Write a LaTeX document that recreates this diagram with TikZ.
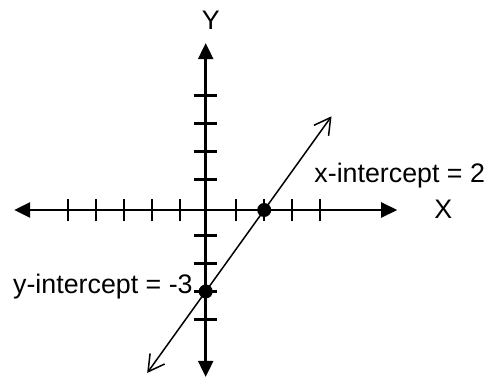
\documentclass[tikz,border=0pt]{standalone}
\usepackage{fontspec}
\setmainfont{Liberation Sans}
\usetikzlibrary{arrows.meta,positioning,calc}

\begin{document}
\begin{tikzpicture}[
  x=14pt,y=14pt,
  every node/.style={font=\fontsize{13.4}{16}\selectfont},
  axisline/.style={line width=1.2pt,
    {Triangle[length=8pt,width=7.5pt]}-{Triangle[length=8pt,width=7.5pt]}},
  tickmark/.style={line width=1.1pt},
  graphline/.style={line width=0.75pt,
    {Straight Barb[length=8pt,width=9pt]}-{Straight Barb[length=8pt,width=9pt]}},
  dot/.style={circle,fill=black,inner sep=0pt,minimum size=7pt},
  lbl/.style={inner sep=0pt},
]
\useasboundingbox (-7.346,-5.964) rectangle (10.154,7.5);
% axes
\coordinate (xl) at (-6.84,0);
\coordinate (xr) at (6.84,0);
\coordinate (yb) at (0,-5.96);
\coordinate (yt) at (0,5.96);
\draw[axisline] (xl) -- (xr);
\draw[axisline] (yb) -- (yt);
% ticks (hand drawn, a little off the axes)
\foreach \x in {-5,...,-1,1,2,3,4}
  \draw[tickmark] (\x+0.09,-0.4) -- (\x+0.09,0.4);
\foreach \y in {-4,...,-1,1,2,3,4}
  \draw[tickmark] (-0.4,\y+0.09) -- (0.4,\y+0.09);

% intercepts and the line through them
\node[dot] (xdot) at (2.09,0) {};
\node[dot] (ydot) at (0,-2.91) {};
\coordinate (lo) at ($(ydot)!-1!(xdot)$);
\coordinate (hi) at ($(ydot)!2.15!(xdot)$);
\draw[graphline] (lo) -- (hi);

% labels
\node (xlab) at (8.49,0.01) {X};
\node (ylab) at (0.18,6.79) {Y};
\node[lbl,anchor=base west] (xintlab) at (3.87,0.975) {x-intercept = 2};
\node[lbl,anchor=base west] (yintlab) at (-6.89,-2.975) {y-intercept = -3};
\end{tikzpicture}
\end{document}
